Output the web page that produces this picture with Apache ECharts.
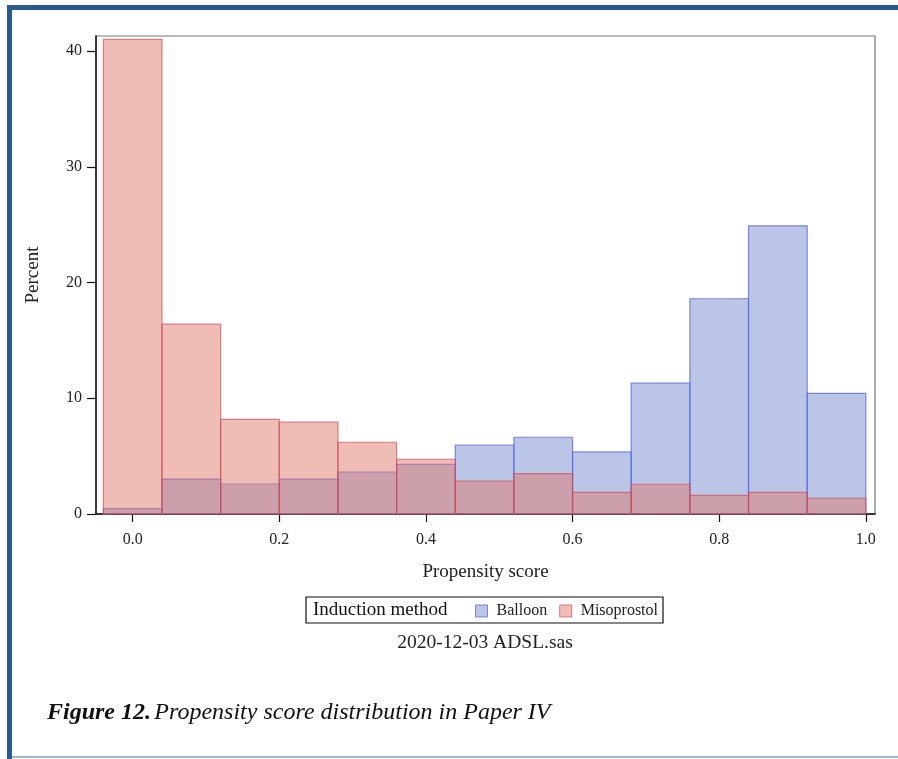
<!DOCTYPE html>
<html>
<head>
<meta charset="utf-8">
<script src="https://cdn.jsdelivr.net/npm/echarts@6/dist/echarts.min.js"></script>
<style>
  html, body { margin: 0; padding: 0; background: #fff; }
  #chart { width: 898px; height: 759px; }
</style>
</head>
<body>
<div id="chart"></div>
<script>
// Histogram bin edges (propensity score), width 0.08
const binStarts = [-0.04, 0.04, 0.12, 0.20, 0.28, 0.36, 0.44, 0.52, 0.60, 0.68, 0.76, 0.84, 0.92];
const binEnds   = [0.04, 0.12, 0.20, 0.28, 0.36, 0.44, 0.52, 0.60, 0.68, 0.76, 0.84, 0.92, 1.00];
// Percent per bin
const balloon     = [0.46, 3.02, 2.59, 3.02, 3.63, 4.29, 5.96, 6.63, 5.36, 11.3, 18.6, 24.9, 10.43];
const misoprostol = [41.0, 16.4, 8.18, 7.93, 6.2, 4.73, 2.85, 3.48, 1.87, 2.57, 1.61, 1.87, 1.36];
const xTicks = [0.0, 0.2, 0.4, 0.6, 0.8, 1.0];
const yTicks = [0, 10, 20, 30, 40];

const FONT = '"Liberation Serif", "DejaVu Serif", serif';
const BLUE_FILL = 'rgba(120,140,205,0.5)';
const BLUE_LINE = 'rgba(90,100,230,0.75)';
const RED_FILL = 'rgba(224,122,110,0.5)';
const RED_LINE = 'rgba(205,70,85,0.65)';

function makeData(vals) {
  return vals.map((v, i) => [binStarts[i], binEnds[i], v]);
}
function renderer(fill, stroke) {
  return function (params, api) {
    const p0 = api.coord([api.value(0), api.value(2)]);
    const p1 = api.coord([api.value(1), 0]);
    return {
      type: 'rect',
      shape: { x: p0[0], y: p0[1], width: p1[0] - p0[0], height: p1[1] - p0[1] },
      style: { fill: fill, stroke: stroke, lineWidth: 1.2 }
    };
  };
}

const chart = echarts.init(document.getElementById('chart'), null, { renderer: 'canvas' });
chart.setOption({
  backgroundColor: '#fff',
  animation: false,
  textStyle: { fontFamily: FONT },
  grid: {
    left: 96, top: 36, right: 23, bottom: 245,
    show: true, borderColor: '#777', borderWidth: 1.2, backgroundColor: 'transparent'
  },
  xAxis: {
    type: 'value', min: -0.05, max: 1.0125,
    name: 'Propensity score', nameLocation: 'middle', nameGap: 49,
    nameTextStyle: { fontFamily: FONT, fontSize: 19, color: '#222' },
    axisLine: { show: true, onZero: false, lineStyle: { color: '#111', width: 1.5 } },
    axisTick: { show: true, length: 8, lineStyle: { color: '#111', width: 1.2 }, customValues: xTicks },
    axisLabel: { fontFamily: FONT, fontSize: 16, color: '#222', margin: 18,
      customValues: xTicks, formatter: v => v.toFixed(1) },
    splitLine: { show: false }
  },
  yAxis: {
    type: 'value', min: 0, max: 41.3,
    name: 'Percent', nameLocation: 'middle', nameGap: 53, nameRotate: 90,
    nameTextStyle: { fontFamily: FONT, fontSize: 19, color: '#222' },
    axisLine: { show: true, onZero: false, lineStyle: { color: '#111', width: 1.5 } },
    axisTick: { show: true, length: 9, lineStyle: { color: '#111', width: 1.2 }, customValues: yTicks },
    axisLabel: { fontFamily: FONT, fontSize: 16, color: '#222', margin: 14, customValues: yTicks },
    splitLine: { show: false }
  },
  legend: {
    left: 475, top: 603, padding: 0,
    itemWidth: 12, itemHeight: 12, itemGap: 12,
    icon: 'rect',
    textStyle: { fontFamily: FONT, fontSize: 16, color: '#222', padding: [0, 0, 0, 4] },
    data: [
      { name: 'Balloon', itemStyle: { color: BLUE_FILL, borderColor: BLUE_LINE, borderWidth: 1 } },
      { name: 'Misoprostol', itemStyle: { color: RED_FILL, borderColor: RED_LINE, borderWidth: 1 } }
    ]
  },
  series: [
    {
      name: 'Balloon', type: 'custom', renderItem: renderer(BLUE_FILL, BLUE_LINE),
      encode: { x: [0, 1], y: 2 }, data: makeData(balloon),
      itemStyle: { color: BLUE_FILL }, z: 2
    },
    {
      name: 'Misoprostol', type: 'custom', renderItem: renderer(RED_FILL, RED_LINE),
      encode: { x: [0, 1], y: 2 }, data: makeData(misoprostol),
      itemStyle: { color: RED_FILL }, z: 3
    }
  ],
  graphic: [
    // outer page frame
    { type: 'rect', shape: { x: 7, y: 5, width: 891, height: 5 }, style: { fill: '#2b5b8e' } },
    { type: 'rect', shape: { x: 7, y: 5, width: 5, height: 754 }, style: { fill: '#2b5b8e' } },
    { type: 'rect', shape: { x: 12, y: 756, width: 886, height: 2 }, style: { fill: '#9fb8d6' } },
    // legend box
    { type: 'rect', shape: { x: 306, y: 597, width: 357, height: 26 },
      style: { fill: 'none', stroke: '#111', lineWidth: 1.2 } },
    { type: 'text', x: 313, y: 610, style: { text: 'Induction method', fontFamily: FONT, fontSize: 19,
      fill: '#111', verticalAlign: 'middle' } },
    // footnote
    { type: 'text', x: 485, y: 643, style: { text: '2020-12-03 ADSL.sas', fontFamily: FONT, fontSize: 19.5,
      fill: '#222', align: 'center', verticalAlign: 'middle' } },
    // caption
    { type: 'text', x: 47, y: 713, style: {
      text: '{b|Figure 12.} {i|Propensity score distribution in Paper IV}',
      verticalAlign: 'middle',
      rich: {
        b: { fontFamily: FONT, fontSize: 24, fontWeight: 'bold', fontStyle: 'italic', fill: '#111' },
        i: { fontFamily: FONT, fontSize: 24, fontStyle: 'italic', fill: '#111' }
      }
    } }
  ]
});
</script>
</body>
</html>
